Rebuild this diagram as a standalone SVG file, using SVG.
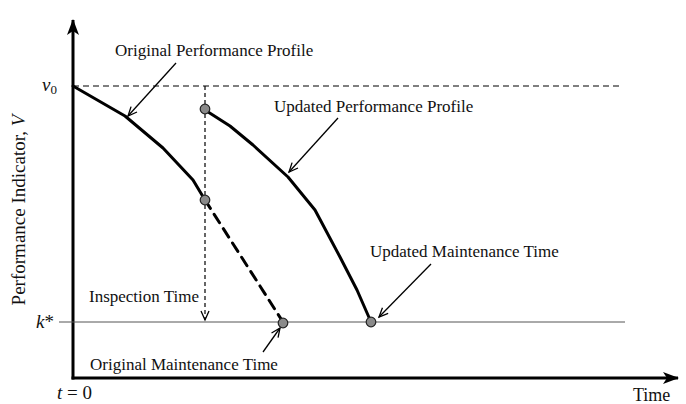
<svg xmlns="http://www.w3.org/2000/svg" width="686" height="404" viewBox="0 0 686 404">
<style>
text{font-family:"Liberation Serif","Times New Roman",serif;font-size:17px;fill:#111}
.it{font-style:italic}
.big{font-size:19px}
.ax{stroke:#000;stroke-width:3;fill:none}
.curve{stroke:#000;stroke-width:3;fill:none;stroke-linejoin:round;stroke-linecap:round}
.lead{stroke:#000;stroke-width:1.3;fill:none;marker-end:url(#open)}
.dot{fill:#8a8a8a;stroke:#222;stroke-width:1.2}
</style>
<defs>
<marker id="open" markerWidth="12" markerHeight="12" refX="10" refY="5" orient="auto" markerUnits="userSpaceOnUse">
<path d="M1,1 L10,5 L1,9" fill="none" stroke="#000" stroke-width="1.3"/>
</marker>
<marker id="solid" markerWidth="18" markerHeight="14" refX="15" refY="6" orient="auto" markerUnits="userSpaceOnUse">
<path d="M0,0 L16,6 L0,12 L4,6 Z" fill="#000"/>
</marker>
</defs>
<g id="axes">
<line class="ax" x1="73" y1="379.5" x2="73" y2="20" marker-end="url(#solid)"/>
<line class="ax" x1="71.5" y1="378" x2="678" y2="378" marker-end="url(#solid)"/>
<text x="633" y="401" style="font-size:18px">Time</text>
<text x="57" y="399" class="big"><tspan class="it">t</tspan> = 0</text>
<text transform="translate(25,210) rotate(-90)" text-anchor="middle" style="font-size:19px">Performance Indicator, <tspan class="it">V</tspan></text>
</g>
<g id="reference-lines">
<line x1="73" y1="86" x2="623" y2="86" stroke="#000" stroke-width="1.2" stroke-dasharray="6,4"/>
<line x1="59" y1="322" x2="625" y2="322" stroke="#555" stroke-width="1"/>
<text x="42" y="91" class="it big">v<tspan dy="3" style="font-style:normal;font-size:13px">0</tspan></text>
<text x="36" y="328" class="big"><tspan class="it">k</tspan>*</text>
</g>
<g id="original-profile">
<polyline class="curve" points="73,86 125,116 163,148 193,180 205,200"/>
<line class="curve" x1="205" y1="200" x2="283" y2="322" stroke-dasharray="10,7" stroke-linecap="butt"/>
</g>
<g id="updated-profile">
<polyline class="curve" points="205,110 230,126 253,145 288,177 315,210 340,257 357,290 371,322"/>
</g>
<g id="connectors">
<line x1="205" y1="86" x2="205" y2="320" stroke="#000" stroke-width="1.2" stroke-dasharray="4,3" marker-end="url(#open)"/>
<line class="lead" x1="176" y1="63" x2="128" y2="116"/>
<line class="lead" x1="338" y1="118" x2="289" y2="172"/>
<line class="lead" x1="431" y1="264" x2="379" y2="317"/>
<line class="lead" x1="263" y1="352" x2="280" y2="328"/>
</g>
<g id="points">
<circle class="dot" cx="205" cy="109" r="4.8"/>
<circle class="dot" cx="205" cy="200" r="4.8"/>
<circle class="dot" cx="283" cy="323" r="4.8"/>
<circle class="dot" cx="371" cy="322" r="4.8"/>
</g>
<g id="labels">
<text x="115" y="56">Original Performance Profile</text>
<text x="274" y="112">Updated Performance Profile</text>
<text x="370" y="257">Updated Maintenance Time</text>
<text x="89" y="302">Inspection Time</text>
<text x="90" y="370">Original Maintenance Time</text>
</g>
</svg>
